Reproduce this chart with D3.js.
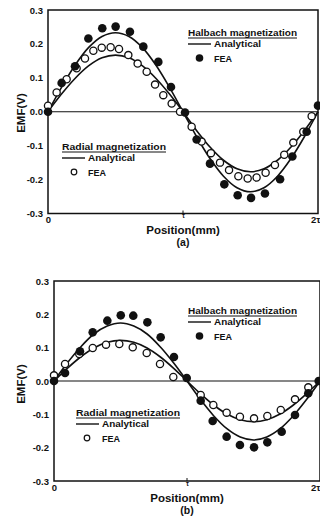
<!DOCTYPE html>
<html><head><meta charset="utf-8">
<script src="https://cdn.jsdelivr.net/npm/d3@7"></script>
<style>
html,body{margin:0;padding:0;background:#fff;}
svg text{font-family:"Liberation Sans",Arial,Helvetica,sans-serif;font-weight:bold;fill:#111;}
</style></head>
<body><svg id="chart" width="320" height="519"></svg>
<script>
// ---- data ----
const xTickValues = [0, 1, 2];
const xTickLabels = ["0", "τ", "2τ"];
const yTickValues = [0.3, 0.2, 0.1, 0.0, -0.1, -0.2, -0.3];
const yTickLabels = ["0.3", "0.2", "0.1", "0.0", "-0.1", "-0.2", "-0.3"];

const analyticalX = [0,0.1,0.2,0.3,0.4,0.5,0.6,0.7,0.8,0.9,1.0,1.1,1.2,1.3,1.4,1.5,1.6,1.7,1.8,1.9,2.0];

// panel (a)
const halbachAnalyticalA = [0,0.072,0.137,0.189,0.222,0.233,0.222,0.189,0.137,0.072,0,-0.073,-0.138,-0.19,-0.224,-0.236,-0.224,-0.19,-0.138,-0.073,0];
const radialAnalyticalA  = [0,0.052,0.098,0.135,0.159,0.167,0.159,0.135,0.098,0.052,0,-0.055,-0.104,-0.143,-0.168,-0.177,-0.168,-0.143,-0.104,-0.055,0];
const halbachFeaXA = [0,0.101,0.2,0.299,0.402,0.501,0.607,0.706,0.817,0.911,1.015,1.101,1.2,1.306,1.405,1.504,1.607,1.719,1.81,1.916,2.0];
const halbachFeaYA = [0,0.085,0.134,0.216,0.246,0.251,0.236,0.192,0.147,0.073,-0.002,-0.082,-0.153,-0.214,-0.246,-0.254,-0.241,-0.199,-0.132,-0.059,0.018];
const radialFeaXA = [0.0,0.064,0.138,0.212,0.274,0.336,0.398,0.464,0.526,0.595,0.664,0.731,0.793,0.854,0.916,0.978,1.064,1.138,1.207,1.274,1.341,1.41,1.479,1.545,1.612,1.681,1.75,1.817,1.891,1.953];
const radialFeaYA = [0.018,0.057,0.096,0.128,0.157,0.18,0.189,0.19,0.185,0.167,0.142,0.118,0.08,0.049,0.024,0,-0.044,-0.088,-0.122,-0.15,-0.172,-0.19,-0.197,-0.194,-0.18,-0.157,-0.127,-0.091,-0.059,-0.013];

// panel (b)
const halbachAnalyticalB = [0,0.054,0.102,0.141,0.165,0.174,0.165,0.141,0.102,0.054,0,-0.055,-0.104,-0.143,-0.168,-0.177,-0.168,-0.143,-0.104,-0.055,0];
const radialAnalyticalB  = [0,0.038,0.072,0.099,0.116,0.122,0.116,0.099,0.072,0.038,0,-0.038,-0.072,-0.099,-0.116,-0.122,-0.116,-0.099,-0.072,-0.038,0];
const halbachFeaXB = [0,0.083,0.195,0.291,0.401,0.502,0.596,0.702,0.802,0.902,0.998,1.103,1.193,1.298,1.398,1.504,1.604,1.712,1.812,1.912,1.99];
const halbachFeaYB = [0,0.024,0.089,0.146,0.181,0.197,0.196,0.176,0.131,0.072,0.009,-0.059,-0.12,-0.167,-0.192,-0.199,-0.184,-0.152,-0.102,-0.037,0.0];
const radialFeaXB = [0,0.083,0.19,0.291,0.391,0.491,0.592,0.697,0.797,0.897,1.103,1.198,1.298,1.398,1.504,1.604,1.705,1.812,1.912];
const radialFeaYB = [0.017,0.051,0.081,0.099,0.109,0.111,0.101,0.084,0.051,0.012,-0.042,-0.072,-0.095,-0.107,-0.112,-0.105,-0.087,-0.055,-0.019];

const seriesNames = ["Halbach magnetization", "Radial magnetization"];
const legendItems = ["Analytical", "FEA"];
const xAxisTitle = "Position(mm)";
const yAxisTitle = "EMF(V)";
const panelTags = ["(a)", "(b)"];

// ---- layout ----
const panels = [
  {
    xr:[48,318], yr:[213.5,10], yLab:[21,113], xTitle:[183,233.5], tag:[183,245.5],
    hA:halbachAnalyticalA, rA:radialAnalyticalA, hX:halbachFeaXA, hY:halbachFeaYA, rX:radialFeaXA, rY:radialFeaYA,
    legH:{x:188, y:36, w:109}, legR:{x:62, y:150, w:104}, rCircleX:74, tagText:panelTags[0]
  },
  {
    xr:[54,320], yr:[481,281], yLab:[21,384], xTitle:[187,501.5], tag:[187,513.5],
    hA:halbachAnalyticalB, rA:radialAnalyticalB, hX:halbachFeaXB, hY:halbachFeaYB, rX:radialFeaXB, rY:radialFeaYB,
    legH:{x:188, y:314, w:109}, legR:{x:76, y:416, w:104}, rCircleX:87, tagText:panelTags[1]
  }
];

const svg = d3.select("#chart");
const ink = "#111";

panels.forEach(p => {
  const x = d3.scaleLinear().domain([0,2]).range(p.xr);
  const y = d3.scaleLinear().domain([-0.3,0.3]).range(p.yr);
  const g = svg.append("g");

  // frame
  g.append("rect").attr("x", x(0)).attr("y", y(0.3))
    .attr("width", x(2)-x(0)).attr("height", y(-0.3)-y(0.3))
    .attr("fill","none").attr("stroke",ink).attr("stroke-width",1.5);
  // zero line
  g.append("line").attr("x1",x(0)).attr("x2",x(2)).attr("y1",y(0)).attr("y2",y(0))
    .attr("stroke",ink).attr("stroke-width",1.2);

  // y axis
  const ya = d3.axisLeft(y).tickValues(yTickValues).tickSize(0).tickPadding(5)
    .tickFormat((d,i)=>yTickLabels[i]);
  const yg = g.append("g").attr("transform",`translate(${x(0)},0)`).call(ya);
  yg.select(".domain").remove();
  yg.selectAll("text").attr("font-size",9.5).attr("fill",ink)
    .style("font-family","'Liberation Sans',Arial,sans-serif").style("font-weight","bold");

  // x axis
  const xa = d3.axisBottom(x).tickValues(xTickValues).tickSize(0).tickPadding(3)
    .tickFormat((d,i)=>xTickLabels[i]);
  const xg = g.append("g").attr("transform",`translate(0,${y(-0.3)})`).call(xa);
  xg.select(".domain").remove();
  xg.selectAll("text").attr("font-size",(d,i)=> i===1 ? 6.5 : 9.5).attr("fill",ink)
    .attr("dy",(d,i)=> i===1 ? "0.3em" : "0.71em")
    .attr("text-anchor",(d,i)=> i===2 ? "end" : "middle")
    .attr("dx",(d,i)=> i===2 ? (320 - x(2)) + "px" : 0)
    .style("font-family","'Liberation Sans',Arial,sans-serif").style("font-weight","bold");
  // small tick at tau
  g.append("line").attr("x1",x(1)).attr("x2",x(1)).attr("y1",y(-0.3)).attr("y2",y(-0.3)-3)
    .attr("stroke",ink).attr("stroke-width",1);

  // titles
  g.append("text").attr("transform",`translate(${p.yLab[0]},${p.yLab[1]}) rotate(-90)`)
    .attr("text-anchor","middle").attr("dy","0.35em").attr("font-size",11.5).text(yAxisTitle);
  g.append("text").attr("x",p.xTitle[0]).attr("y",p.xTitle[1]).attr("text-anchor","middle")
    .attr("font-size",11.5).text(xAxisTitle);
  g.append("text").attr("x",p.tag[0]).attr("y",p.tag[1]).attr("text-anchor","middle")
    .attr("font-size",10.5).text(p.tagText);

  // analytical curves
  const line = d3.line().x((d,i)=>x(analyticalX[i])).y(d=>y(d)).curve(d3.curveCatmullRom);
  [p.hA, p.rA].forEach(s => {
    g.append("path").attr("d",line(s)).attr("fill","none").attr("stroke",ink).attr("stroke-width",1.6);
  });

  // FEA radial (open)
  g.selectAll(null).data(p.rX).enter().append("circle")
    .attr("cx",d=>x(d)).attr("cy",(d,i)=>y(p.rY[i])).attr("r",3.6)
    .attr("fill","#fff").attr("stroke",ink).attr("stroke-width",1.3);
  // FEA halbach (filled)
  g.selectAll(null).data(p.hX).enter().append("circle")
    .attr("cx",d=>x(d)).attr("cy",(d,i)=>y(p.hY[i])).attr("r",4.3)
    .attr("fill",ink);

  // legends
  function legend(L, name, filled, markerX) {
    const lg = g.append("g");
    lg.append("text").attr("x",L.x).attr("y",L.y).attr("font-size",9)
      .attr("textLength",L.w).attr("lengthAdjust","spacingAndGlyphs").text(name);
    lg.append("line").attr("x1",L.x).attr("x2",L.x+L.w).attr("y1",L.y+2).attr("y2",L.y+2)
      .attr("stroke",ink).attr("stroke-width",1);
    lg.append("line").attr("x1",L.x).attr("x2",L.x+23).attr("y1",L.y+8).attr("y2",L.y+8)
      .attr("stroke",ink).attr("stroke-width",1.4);
    lg.append("text").attr("x",L.x+26).attr("y",L.y+11).attr("font-size",9)
      .attr("textLength",47).attr("lengthAdjust","spacingAndGlyphs").text(legendItems[0]);
    if (filled) {
      lg.append("circle").attr("cx",markerX).attr("cy",L.y+22).attr("r",3.8).attr("fill",ink);
    } else {
      lg.append("circle").attr("cx",markerX).attr("cy",L.y+22).attr("r",2.8)
        .attr("fill","#fff").attr("stroke",ink).attr("stroke-width",1.2);
    }
    lg.append("text").attr("x",L.x+26).attr("y",L.y+25.5).attr("font-size",9).text(legendItems[1]);
  }
  legend(p.legH, seriesNames[0], true, 199.5);
  legend(p.legR, seriesNames[1], false, p.rCircleX);
});
</script></body></html>
